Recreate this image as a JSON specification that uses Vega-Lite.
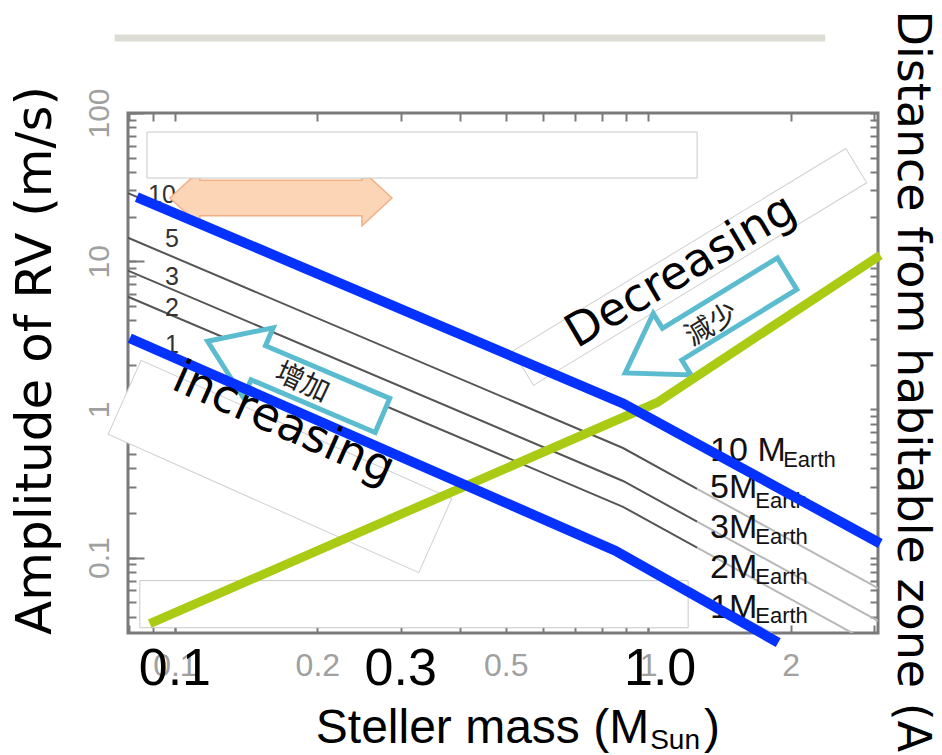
{
  "$schema": "https://vega.github.io/schema/vega-lite/v6.json",
  "autosize": {"type": "none"},
  "padding": {"left": 128, "top": 113, "right": 64, "bottom": 122},
  "width": 750,
  "height": 520,
  "background": "white",
  "config": {"view": {"stroke": "#7a7a7a", "strokeWidth": 3}},
  "datasets": {
    "topbar": [{"m": 0.0746, "m2": 2.367, "k": 321}],
    "grayDark": [
      {"mp": "10", "m": 0.0796, "k": 28.8}, {"mp": "10", "m": 0.885, "k": 1.098}, {"mp": "10", "m": 1.269, "k": 0.583},
      {"mp": "5", "m": 0.0796, "k": 14.4}, {"mp": "5", "m": 0.885, "k": 0.549}, {"mp": "5", "m": 1.269, "k": 0.2915},
      {"mp": "3", "m": 0.0796, "k": 8.64}, {"mp": "3", "m": 0.885, "k": 0.329}, {"mp": "3", "m": 1.269, "k": 0.175},
      {"mp": "2", "m": 0.0796, "k": 5.76}, {"mp": "2", "m": 0.885, "k": 0.22}, {"mp": "2", "m": 1.269, "k": 0.1166},
      {"mp": "1", "m": 0.0796, "k": 2.88}, {"mp": "1", "m": 0.885, "k": 0.11}, {"mp": "1", "m": 1.269, "k": 0.0583}
    ],
    "grayLight": [
      {"mp": "10", "m": 1.269, "k": 0.583}, {"mp": "10", "m": 3.06, "k": 0.1245},
      {"mp": "5", "m": 1.269, "k": 0.2915}, {"mp": "5", "m": 3.06, "k": 0.0623},
      {"mp": "3", "m": 1.269, "k": 0.175}, {"mp": "3", "m": 3.06, "k": 0.0374},
      {"mp": "2", "m": 1.269, "k": 0.1166}, {"mp": "2", "m": 3.06, "k": 0.0249},
      {"mp": "1", "m": 1.269, "k": 0.0583}, {"mp": "1", "m": 3.06, "k": 0.01245}
    ],
    "leftNums": [
      {"t": "10", "m": 0.0939, "k": 27.9},
      {"t": "5", "m": 0.0986, "k": 14.1},
      {"t": "3", "m": 0.0986, "k": 7.8},
      {"t": "2", "m": 0.0986, "k": 4.81},
      {"t": "1", "m": 0.0986, "k": 2.71}
    ],
    "orangeArrow": [{"m": 0.1675, "k": 26.7}],
    "whiteBoxes": [
      {"m": 0.0873, "m2": 1.269, "k": 74.4, "k2": 36.4},
      {"m": 0.0843, "m2": 1.215, "k": 0.0699, "k2": 0.03365}
    ],
    "decBox": [{"m": 1.224, "k": 9.15}],
    "incBox": [{"m": 0.1667, "k": 0.412}],
    "incArrow": [{"m": 0.1794, "k": 1.62}],
    "decArrow": [{"m": 1.326, "k": 3.81}],
    "mLabels": [
      {"t": "10 M", "m": 1.352, "k": 0.452},
      {"t": "5M", "m": 1.352, "k": 0.2543},
      {"t": "3M", "m": 1.352, "k": 0.1365},
      {"t": "2M", "m": 1.352, "k": 0.0733},
      {"t": "1M", "m": 1.352, "k": 0.0393}
    ],
    "mSubs": [
      {"t": "Earth", "m": 1.929, "k": 0.4057},
      {"t": "Earth", "m": 1.684, "k": 0.2177},
      {"t": "Earth", "m": 1.684, "k": 0.1244},
      {"t": "Earth", "m": 1.684, "k": 0.0667},
      {"t": "Earth", "m": 1.684, "k": 0.0364}
    ],
    "blue": [
      {"line": "upper", "m": 0.0831, "k": 27.1}, {"line": "upper", "m": 0.885, "k": 1.098}, {"line": "upper", "m": 3.094, "k": 0.1245},
      {"line": "lower", "m": 0.0803, "k": 3.02}, {"line": "lower", "m": 0.852, "k": 0.1114}, {"line": "lower", "m": 1.883, "k": 0.0267}
    ],
    "green": [
      {"m": 0.0885, "k": 0.0358}, {"m": 1.045, "k": 1.114}, {"m": 3.094, "k": 10.98}
    ],
    "decText": [{"t": "Decreasing", "m": 1.215, "k": 7.1}],
    "incText": [{"t": "increasing", "m": 0.1651, "k": 0.657}],
    "decJp": [{"t": "減少", "m": 1.366, "k": 3.695}],
    "incCn": [{"t": "增加", "m": 0.1856, "k": 1.5}],
    "bigTicks": [
      {"t": "0.1", "m": 0.1, "k": 0.01778},
      {"t": "0.3", "m": 0.3, "k": 0.01778},
      {"t": "1.0", "m": 1.06, "k": 0.01778}
    ],
    "xTitleMain": [{"t": "Steller mass (M", "m": 1.005, "k": 0.005623}],
    "xTitleSub": [{"t": "Sun", "m": 1.0098, "k": 0.005122}],
    "xTitleEnd": [{"t": ")", "m": 1.313, "k": 0.005623}]
  },
  "resolve": {"axis": {"x": "independent", "y": "independent"}},
  "encoding": {
    "x": {"field": "m", "type": "quantitative", "scale": {"type": "log", "domain": [0.0796, 3.06]}, "axis": null},
    "y": {"field": "k", "type": "quantitative", "scale": {"type": "log", "domain": [0.031, 100]}, "axis": null}
  },
  "layer": [
    {
      "data": {"name": "topbar"},
      "mark": {"type": "rule", "color": "#dcdcd4", "strokeWidth": 7, "clip": false},
      "encoding": {"x2": {"field": "m2"}}
    },
    {
      "data": {"name": "grayDark"},
      "mark": {"type": "line", "color": "#555555", "strokeWidth": 2},
      "encoding": {
        "x": {"field": "m", "type": "quantitative", "scale": {"type": "log", "domain": [0.0796, 3.06]},
          "axis": {"orient": "bottom", "values": [0.08, 0.09, 0.1, 0.2, 0.3, 0.4, 0.5, 0.6, 0.7, 0.8, 0.9, 1, 2, 3],
            "labelExpr": "datum.value == 0.1 ? '0.1' : datum.value == 0.2 ? '0.2' : datum.value == 0.5 ? '0.5' : datum.value == 1 ? '1' : datum.value == 2 ? '2' : ''",
            "labelFont": "Liberation Sans", "labelFontSize": 32, "labelColor": "#a0a0a0", "labelAlign": "center", "labelBaseline": "alphabetic",
            "labelPadding": 50, "labelFlush": false, "labelOverlap": false, "labelBound": false,
            "tickSize": -8, "tickColor": "#7a7a7a", "tickWidth": 2, "domain": false, "grid": false, "title": null}},
        "y": {"field": "k", "type": "quantitative", "scale": {"type": "log", "domain": [0.031, 100]},
          "axis": {"orient": "left", "values": [0.04, 0.05, 0.06, 0.07, 0.08, 0.09, 0.1, 0.2, 0.3, 0.4, 0.5, 0.6, 0.7, 0.8, 0.9, 1, 2, 3, 4, 5, 6, 7, 8, 9, 10, 20, 30, 40, 50, 60, 70, 80, 90, 100],
            "labelExpr": "datum.value == 100 ? '100' : datum.value == 10 ? '10' : datum.value == 1 ? '1' : datum.value == 0.1 ? '0.1' : ''",
            "labelFont": "Liberation Sans", "labelFontSize": 30, "labelColor": "#a0a0a0", "labelAngle": 270, "labelAlign": "center", "labelBaseline": "alphabetic",
            "labelPadding": 28, "labelFlush": false, "labelOverlap": false, "labelBound": false,
            "tickSize": -8, "tickColor": "#7a7a7a", "tickWidth": 2, "domain": false, "grid": false,
            "title": "Amplitude of RV (m/s)", "titleFont": "DejaVu Sans", "titleFontSize": 50, "titleFontWeight": "normal", "titleColor": "black",
            "titleAngle": 270, "titleAlign": "center", "titleBaseline": "alphabetic", "titleX": -78, "titleY": 247}},
        "detail": {"field": "mp"}
      }
    },
    {
      "data": {"name": "grayLight"},
      "mark": {"type": "line", "color": "#b8b8b8", "strokeWidth": 2, "clip": true},
      "encoding": {
        "x": {"field": "m", "type": "quantitative", "scale": {"type": "log", "domain": [0.0796, 3.06]},
          "axis": {"orient": "bottom", "values": [0.1, 1], "labels": false, "tickSize": -15, "tickColor": "#7a7a7a", "tickWidth": 2, "domain": false, "grid": false, "title": null}},
        "y": {"field": "k", "type": "quantitative", "scale": {"type": "log", "domain": [0.031, 100]},
          "axis": {"orient": "left", "values": [0.1, 1, 10, 100], "labels": false, "tickSize": -16, "tickColor": "#7a7a7a", "tickWidth": 2, "domain": false, "grid": false, "title": null}},
        "detail": {"field": "mp"}
      }
    },
    {
      "data": {"name": "leftNums"},
      "mark": {"type": "text", "font": "Liberation Sans Narrow, Liberation Sans", "fontSize": 25, "color": "#333333", "align": "center", "baseline": "middle"},
      "encoding": {"text": {"field": "t"}}
    },
    {
      "data": {"name": "orangeArrow"},
      "mark": {"type": "point", "shape": "M -1 0 L -0.73 -0.25 L -0.73 -0.16 L 0.73 -0.16 L 0.73 -0.25 L 1 0 L 0.73 0.25 L 0.73 0.16 L -0.73 0.16 L -0.73 0.25 Z",
        "size": 49284, "filled": true, "fill": "#fbd5b5", "stroke": "#f2b084", "strokeWidth": 1.5, "opacity": 1}
    },
    {
      "data": {"name": "whiteBoxes"},
      "mark": {"type": "rect", "fill": "white", "stroke": "#c8c8c8", "strokeWidth": 1},
      "encoding": {"x2": {"field": "m2"}, "y2": {"field": "k2"}}
    },
    {
      "data": {"name": "decBox"},
      "mark": {"type": "point", "shape": "M -1 -0.103 L 1 -0.103 L 1 0.103 L -1 0.103 Z", "size": 152100, "angle": -31.3,
        "filled": true, "fill": "white", "stroke": "#d0d0d0", "strokeWidth": 1, "opacity": 1}
    },
    {
      "data": {"name": "incBox"},
      "mark": {"type": "point", "shape": "M -1 -0.238 L 1 -0.238 L 1 0.238 L -1 0.238 Z", "size": 115600, "angle": 24,
        "filled": true, "fill": "white", "stroke": "#d0d0d0", "strokeWidth": 1, "opacity": 1}
    },
    {
      "data": {"name": "incArrow"},
      "mark": {"type": "point", "shape": "M -1 0 L -0.42 -0.4 L -0.42 -0.195 L 1 -0.195 L 1 0.195 L -0.42 0.195 L -0.42 0.4 Z", "size": 36100, "angle": 23,
        "filled": true, "fill": "white", "stroke": "#5cbccf", "strokeWidth": 5, "opacity": 1}
    },
    {
      "data": {"name": "decArrow"},
      "mark": {"type": "point", "shape": "M -1 0 L -0.42 -0.38 L -0.42 -0.195 L 1 -0.195 L 1 0.195 L -0.42 0.195 L -0.42 0.38 Z", "size": 36100, "angle": -31.5,
        "filled": true, "fill": "white", "stroke": "#5cbccf", "strokeWidth": 5, "opacity": 1}
    },
    {
      "data": {"name": "mLabels"},
      "mark": {"type": "text", "font": "Liberation Sans", "fontSize": 34, "color": "#111111", "align": "left", "baseline": "alphabetic"},
      "encoding": {"text": {"field": "t"}}
    },
    {
      "data": {"name": "mSubs"},
      "mark": {"type": "text", "font": "Liberation Sans", "fontSize": 22, "color": "#111111", "align": "left", "baseline": "alphabetic"},
      "encoding": {"text": {"field": "t"}}
    },
    {
      "data": {"name": "green"},
      "mark": {"type": "line", "color": "#a9cb13", "strokeWidth": 9, "clip": false},
      "encoding": {
        "x": {"field": "m", "type": "quantitative", "scale": {"type": "log", "domain": [0.0796, 3.06]},
          "axis": {"orient": "top", "values": [0.08, 0.09, 0.1, 0.2, 0.3, 0.4, 0.5, 0.6, 0.7, 0.8, 0.9, 1, 2, 3], "labels": false,
            "tickSize": -8, "tickColor": "#7a7a7a", "tickWidth": 2, "domain": false, "grid": false, "title": null}},
        "y": {"field": "k", "type": "quantitative", "scale": {"type": "log", "domain": [0.031, 100]},
          "axis": {"orient": "right", "values": [0.04, 0.05, 0.06, 0.07, 0.08, 0.09, 0.1, 0.2, 0.3, 0.4, 0.5, 0.6, 0.7, 0.8, 0.9, 1, 2, 3, 4, 5, 6, 7, 8, 9, 10, 20, 30, 40, 50, 60, 70, 80, 90, 100],
            "labels": false, "tickSize": -8, "tickColor": "#7a7a7a", "tickWidth": 2, "domain": false, "grid": false,
            "title": "Distance from habitable zone (AU)", "titleFont": "DejaVu Sans", "titleFontSize": 46, "titleFontWeight": "normal", "titleColor": "black",
            "titleAngle": 90, "titleAlign": "left", "titleBaseline": "alphabetic", "titleX": 19, "titleY": -103}}
      }
    },
    {
      "data": {"name": "blue"},
      "mark": {"type": "line", "color": "#0532ff", "strokeWidth": 10, "clip": false},
      "encoding": {"detail": {"field": "line"}}
    },
    {
      "data": {"name": "decText"},
      "mark": {"type": "text", "font": "DejaVu Sans", "fontSize": 46, "color": "black", "align": "center", "baseline": "alphabetic", "angle": -30.5},
      "encoding": {"text": {"field": "t"}}
    },
    {
      "data": {"name": "incText"},
      "mark": {"type": "text", "font": "DejaVu Sans", "fontSize": 46, "color": "black", "align": "center", "baseline": "alphabetic", "angle": 24},
      "encoding": {"text": {"field": "t"}}
    },
    {
      "data": {"name": "decJp"},
      "mark": {"type": "text", "font": "Noto Sans CJK JP", "fontSize": 28, "color": "#222222", "align": "center", "baseline": "middle", "angle": -31},
      "encoding": {"text": {"field": "t"}}
    },
    {
      "data": {"name": "incCn"},
      "mark": {"type": "text", "font": "Noto Sans CJK SC", "fontSize": 28, "color": "#222222", "align": "center", "baseline": "middle", "angle": 25},
      "encoding": {"text": {"field": "t"}}
    },
    {
      "data": {"name": "bigTicks"},
      "mark": {"type": "text", "font": "Liberation Sans Narrow, Liberation Sans", "fontSize": 52, "color": "black", "align": "center", "baseline": "middle"},
      "encoding": {"text": {"field": "t"}}
    },
    {
      "data": {"name": "xTitleMain"},
      "mark": {"type": "text", "font": "Liberation Sans", "fontSize": 48, "color": "black", "align": "right", "baseline": "alphabetic"},
      "encoding": {"text": {"field": "t"}}
    },
    {
      "data": {"name": "xTitleSub"},
      "mark": {"type": "text", "font": "Liberation Sans", "fontSize": 28, "color": "black", "align": "left", "baseline": "alphabetic"},
      "encoding": {"text": {"field": "t"}}
    },
    {
      "data": {"name": "xTitleEnd"},
      "mark": {"type": "text", "font": "Liberation Sans", "fontSize": 48, "color": "black", "align": "left", "baseline": "alphabetic"},
      "encoding": {"text": {"field": "t"}}
    }
  ]
}
